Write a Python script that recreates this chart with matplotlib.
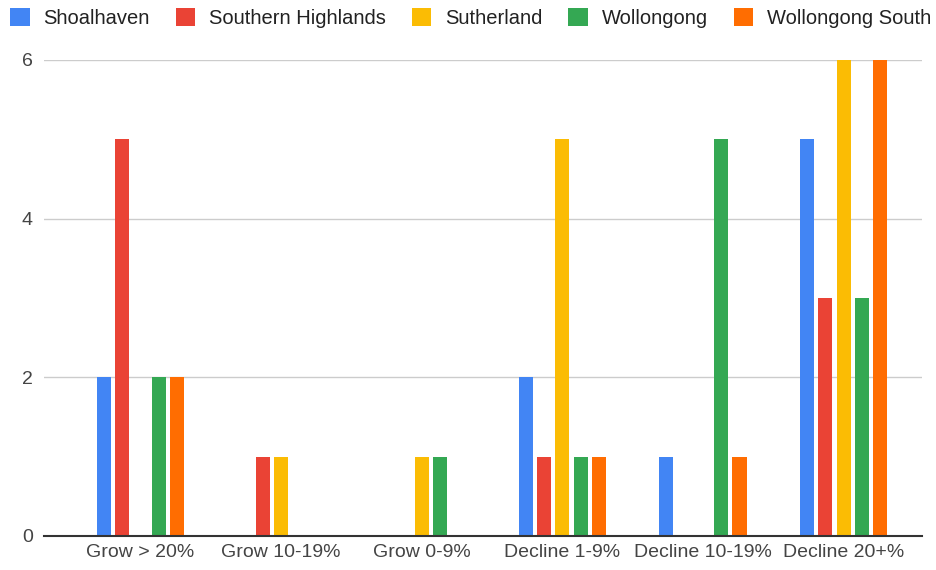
import numpy as np
import matplotlib.pyplot as plt
from matplotlib.patches import Patch

categories = ["Grow > 20%", "Grow 10-19%", "Grow 0-9%", "Decline 1-9%", "Decline 10-19%", "Decline 20+%"]
series_names = ["Shoalhaven", "Southern Highlands", "Sutherland", "Wollongong", "Wollongong South"]
shoalhaven = [2, 0, 0, 2, 1, 5]
southern_highlands = [5, 1, 0, 1, 0, 3]
sutherland = [0, 1, 1, 5, 0, 6]
wollongong = [2, 0, 1, 1, 5, 3]
wollongong_south = [2, 0, 0, 1, 1, 6]
colors = ["#4285F4", "#EA4335", "#FBBC04", "#34A853", "#FF6D01"]

plt.rcParams['font.family'] = ['Liberation Sans', 'DejaVu Sans']

fig = plt.figure(figsize=(9.36, 5.7), dpi=100)
ax = fig.add_axes([44 / 936, 34 / 570, (922 - 44) / 936, (536 - 60) / 570])

x = np.arange(len(categories))
step = 0.13
width = 0.1
all_series = [shoalhaven, southern_highlands, sutherland, wollongong, wollongong_south]
for i, vals in enumerate(all_series):
    ax.bar(x + (i - 2) * step, vals, width, color=colors[i], zorder=3)

ax.set_xlim(-0.686, 5.558)
ax.set_ylim(0, 6)
ax.set_yticks([0, 2, 4, 6])
ax.set_xticks(x)
ax.set_xticklabels(categories)
ax.tick_params(axis='both', length=0, labelsize=14, colors='#444444')
ax.tick_params(axis='x', pad=6)
ax.tick_params(axis='y', pad=8)
ax.grid(axis='y', color='#cccccc', linewidth=1, zorder=0)
for s in ['top', 'right', 'left']:
    ax.spines[s].set_visible(False)
ax.spines['bottom'].set_color('#333333')
ax.spines['bottom'].set_linewidth(1.5)
ax.spines['bottom'].set_zorder(4)

handles = [Patch(facecolor=c, edgecolor='none') for c in colors]
fig.legend(handles, series_names, loc='upper left', bbox_to_anchor=(10 / 936, 1 - 8 / 570),
           ncol=5, frameon=False, fontsize=14.5, borderpad=0, borderaxespad=0,
           handlelength=0.98, handleheight=1.0, handletextpad=0.68, columnspacing=1.28,
           labelcolor='#222222')

fig.savefig("out.png", dpi=100)
